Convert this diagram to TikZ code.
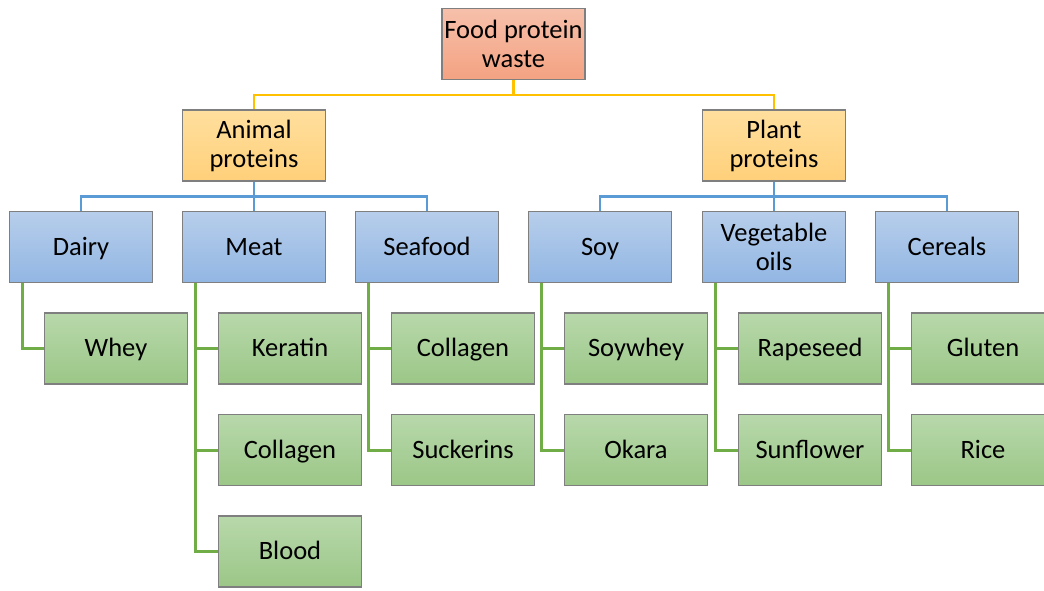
\documentclass[tikz,border=0pt]{standalone}
\usepackage{fontspec}
\setmainfont{Carlito}
\definecolor{rootT}{HTML}{F6C0AA}
\definecolor{rootB}{HTML}{F4A282}
\definecolor{goldT}{HTML}{FFDF9E}
\definecolor{goldB}{HTML}{FFD07A}
\definecolor{blueT}{HTML}{B7CEEB}
\definecolor{blueB}{HTML}{92B6E3}
\definecolor{greenT}{HTML}{B8D8AB}
\definecolor{greenB}{HTML}{9BC787}
\definecolor{bordergray}{HTML}{7F7F7F}
\definecolor{lgold}{HTML}{FFC000}
\definecolor{lblue}{HTML}{5B9BD5}
\definecolor{lgreen}{HTML}{70AD47}
\tikzset{
  box/.style={draw=bordergray, line width=1.2pt, minimum width=143pt, minimum height=71pt,
    inner sep=0pt, align=center, font=\fontsize{26.5}{29}\selectfont, text=black},
  one/.style={execute at begin node={\rule[-0.21em]{0pt}{1.05em}}},
  rootbox/.style={box, top color=rootT, bottom color=rootB},
  goldbox/.style={box, top color=goldT, bottom color=goldB},
  bluebox/.style={box, top color=blueT, bottom color=blueB},
  greenbox/.style={box, one, top color=greenT, bottom color=greenB},
  goldline/.style={draw=lgold, line width=2.6pt},
  blueline/.style={draw=lblue, line width=2.6pt},
  greenline/.style={draw=lgreen, line width=3pt},
}
\begin{document}
\begin{tikzpicture}[x=1pt,y=-1pt]
\useasboundingbox[fill=white] (0,0) rectangle (1044,590);
\node[rootbox] (root) at (513.5,44) {Food protein\\waste};
\node[goldbox] (animal) at (254,145.5) {Animal\\proteins};
\node[goldbox] (plant) at (774,145.5) {Plant\\proteins};
\node[bluebox, one] (dairy) at (81,247) {Dairy};
\node[bluebox, one] (meat) at (254,247) {Meat};
\node[bluebox, one] (seafood) at (427,247) {Seafood};
\node[bluebox, one] (soy) at (600,247) {Soy};
\node[bluebox] (vegoil) at (774,247) {Vegetable\\oils};
\node[bluebox, one] (cereals) at (947,247) {Cereals};
\node[greenbox] (whey) at (116,348.5) {Whey};
\node[greenbox] (keratin) at (290,348.5) {Keratin};
\node[greenbox] (mcollagen) at (290,450) {Collagen};
\node[greenbox] (blood) at (290,551.5) {Blood};
\node[greenbox] (scollagen) at (463,348.5) {Collagen};
\node[greenbox] (suckerins) at (463,450) {Suckerins};
\node[greenbox] (soywhey) at (636,348.5) {Soywhey};
\node[greenbox] (okara) at (636,450) {Okara};
\node[greenbox] (rapeseed) at (810,348.5) {Rapeseed};
\node[greenbox] (sunflower) at (810,450) {Sunflower};
\node[greenbox] (gluten) at (983,348.5) {Gluten};
\node[greenbox] (rice) at (983,450) {Rice};
% gold
\draw[goldline] (root.south) -- ++(0,15) -| (animal.north);
\draw[goldline] (root.south) -- ++(0,15) -| (plant.north);
% blue
\foreach \c in {dairy,meat,seafood}{\draw[blueline] (animal.south) -- ++(0,15) -| (\c.north);}
\foreach \c in {soy,vegoil,cereals}{\draw[blueline] (plant.south) -- ++(0,15) -| (\c.north);}
% green
\foreach \p/\c in {dairy/whey,meat/keratin,meat/mcollagen,meat/blood,seafood/scollagen,seafood/suckerins,soy/soywhey,soy/okara,vegoil/rapeseed,vegoil/sunflower,cereals/gluten,cereals/rice}{
  \draw[greenline] (\p.south west) ++(14,0) |- (\c.west);}
\end{tikzpicture}
\end{document}
